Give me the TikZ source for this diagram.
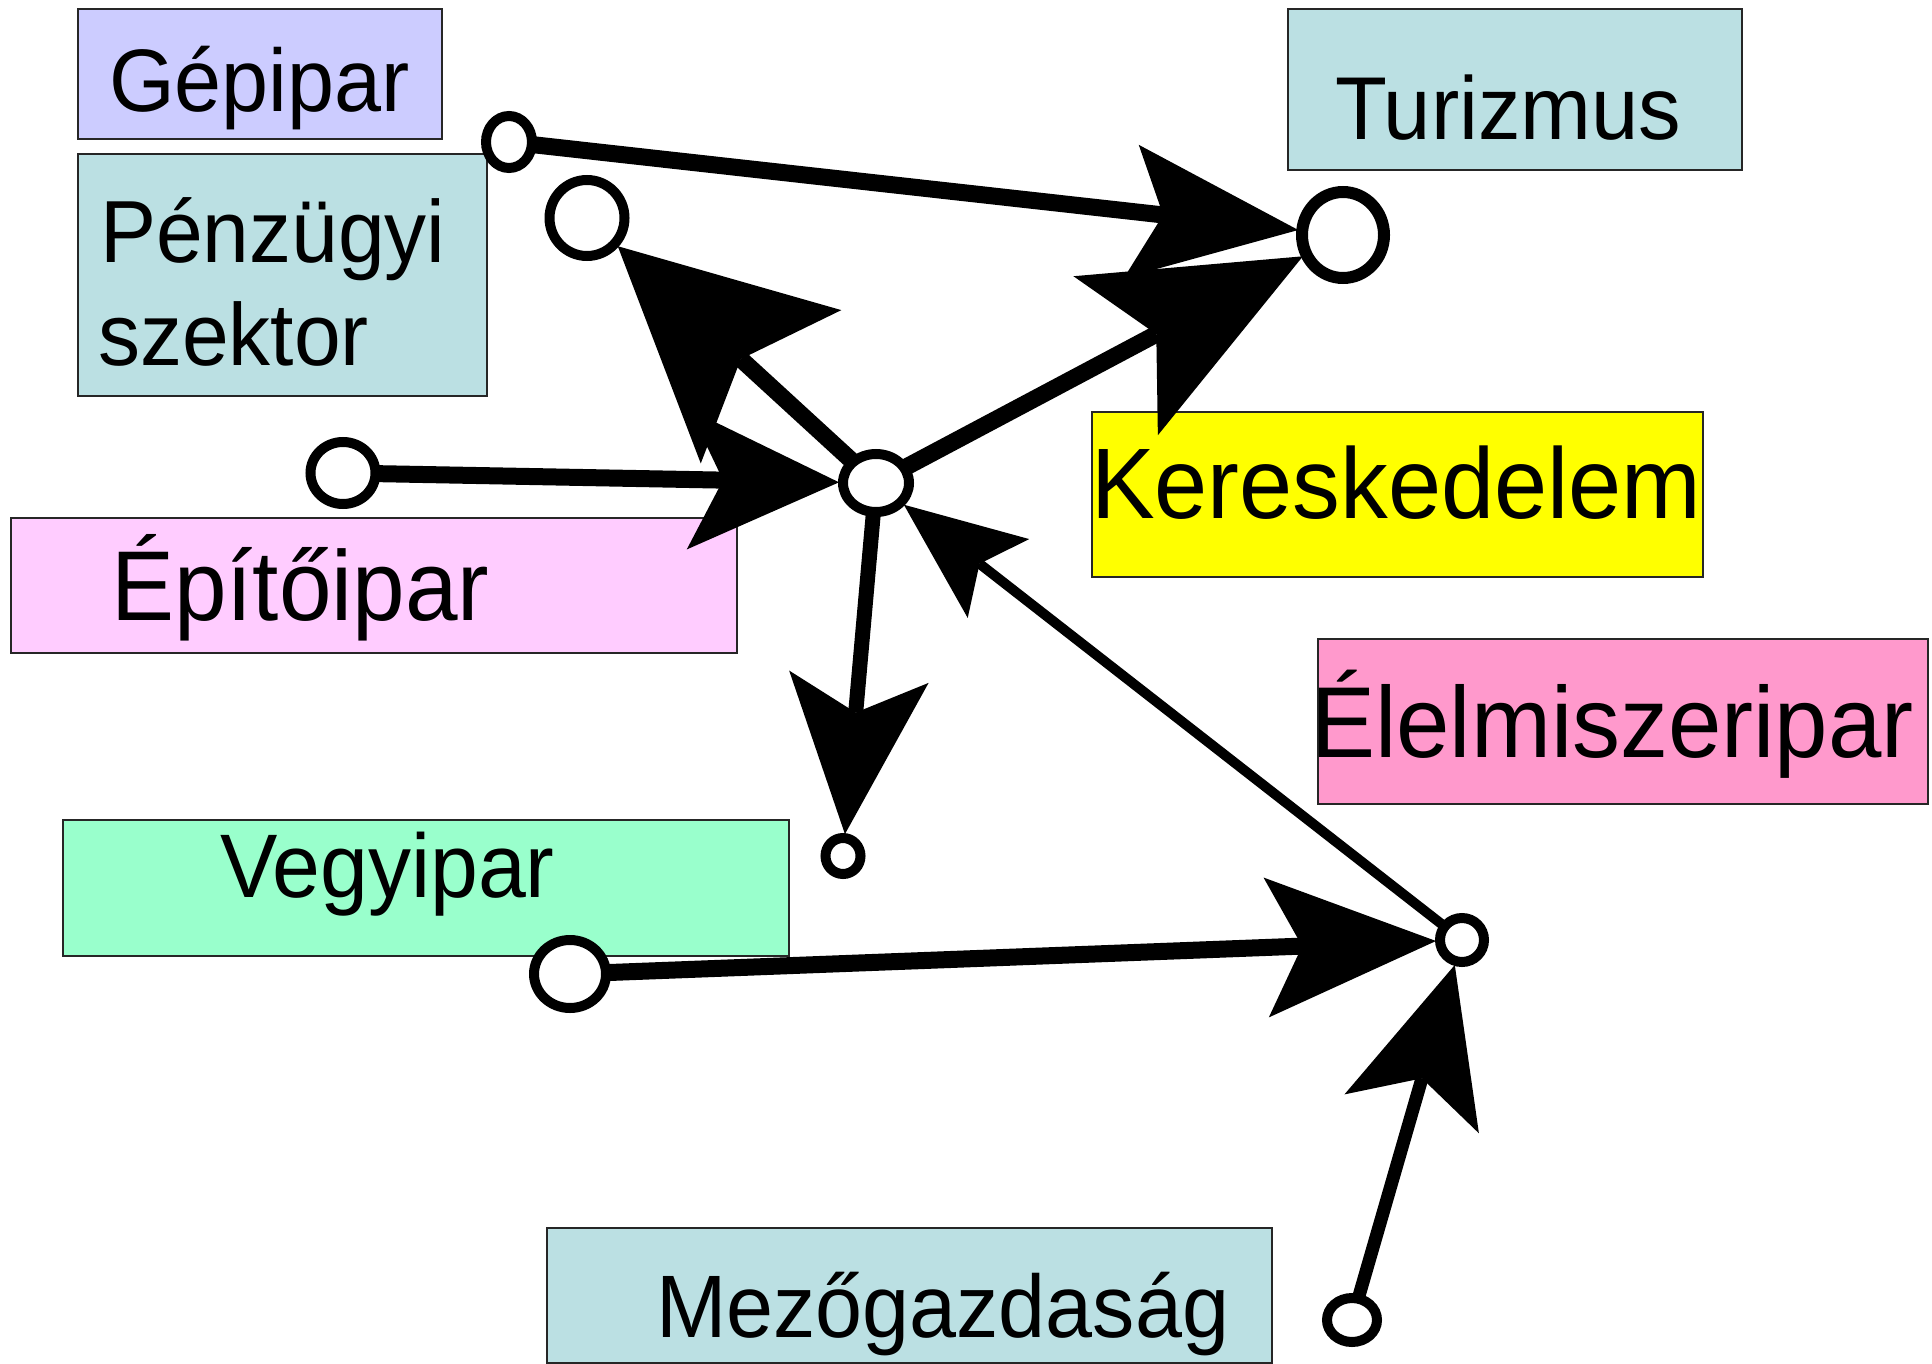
\documentclass[tikz,border=0pt]{standalone}
\usepackage{fontspec}
\setmainfont{Liberation Sans}
\usetikzlibrary{arrows.meta,shapes.geometric}
\pgfdeclarelayer{boxes}
\pgfdeclarelayer{links}
\pgfsetlayers{boxes,links,main}
\definecolor{cLav}{HTML}{CCCCFF}
\definecolor{cBlue}{HTML}{BBE0E3}
\definecolor{cYel}{HTML}{FFFF00}
\definecolor{cPink}{HTML}{FFCCFF}
\definecolor{cRose}{HTML}{FF99CC}
\definecolor{cMint}{HTML}{99FFCC}
\newcommand{\tallt}[1]{\scalebox{1}[1.05]{#1}}
\begin{document}
\begin{tikzpicture}[x=1pt,y=-1pt,
  box/.style={draw=black!85,line width=1.6pt,anchor=north west,inner sep=0pt,outer sep=0pt},
  lbl/.style={anchor=base west,inner sep=0pt,outer sep=0pt,text=black},
  hub/.style={ellipse,draw=black,fill=white,line width=10pt,inner sep=0pt,outer sep=0pt},
  link/.style={draw=black,line width=17pt,shorten >=4pt},
  head/.style n args={3}{-{Stealth[length=#1,width=#2,inset=#3,line width=0pt 0 0]}}
]
\useasboundingbox (0,0) rectangle (1932,1364);

% circles (main layer, on top)
\node[hub,minimum width=46pt,minimum height=52pt] (cG) at (509,142) {};
\node[hub,minimum width=75pt,minimum height=76pt] (cP) at (587,218) {};
\node[hub,line width=12pt,minimum width=82pt,minimum height=86pt] (cT) at (1343,235) {};
\node[hub,minimum width=65pt,minimum height=62pt] (cE) at (343,473) {};
\node[hub,minimum width=66pt,minimum height=58pt] (cC) at (876,483) {};
\node[hub,minimum width=35pt,minimum height=36pt] (cS) at (843,856) {};
\node[hub,minimum width=72pt,minimum height=68pt] (cV) at (570,974) {};
\node[hub,minimum width=44pt,minimum height=44pt] (cL) at (1462,940) {};
\node[hub,minimum width=50pt,minimum height=44pt] (cM) at (1352,1320) {};

\begin{pgfonlayer}{boxes}
\node[box,fill=cLav,minimum width=364pt,minimum height=130pt] (bGep) at (78,9) {};
\node[box,fill=cBlue,minimum width=409pt,minimum height=242pt] (bPenz) at (78,154) {};
\node[box,fill=cBlue,minimum width=454pt,minimum height=161pt] (bTur) at (1288,9) {};
\node[box,fill=cYel,minimum width=611pt,minimum height=165pt] (bKer) at (1092,412) {};
\node[box,fill=cPink,minimum width=726pt,minimum height=135pt] (bEpi) at (11,518) {};
\node[box,fill=cRose,minimum width=610pt,minimum height=165pt] (bEle) at (1318,639) {};
\node[box,fill=cMint,minimum width=726pt,minimum height=136pt] (bVeg) at (63,820) {};
\node[box,fill=cBlue,minimum width=725pt,minimum height=135pt] (bMez) at (547,1228) {};

\node[lbl,font=\fontsize{84.5}{100}\selectfont] (tGep) at (109,112) {\tallt{Gépipar}};
\node[lbl,font=\fontsize{84}{100}\selectfont] (tPenz1) at (100,262) {\tallt{Pénzügyi}};
\node[lbl,font=\fontsize{84}{100}\selectfont] (tPenz2) at (98,365) {\tallt{szektor}};
\node[lbl,font=\fontsize{85}{100}\selectfont] (tTur) at (1335,140) {\tallt{Turizmus}};
\node[lbl,font=\fontsize{95.5}{110}\selectfont] (tKer) at (1091,518) {\tallt{Kereskedelem}};
\node[lbl,font=\fontsize{96}{110}\selectfont] (tEle) at (1311,757) {\tallt{Élelmiszeripar}};
\node[lbl,font=\fontsize{94.5}{110}\selectfont] (tEpi) at (111,620) {\tallt{Építőipar}};
\node[lbl,font=\fontsize{86}{100}\selectfont] (tVeg) at (220,897) {\tallt{Vegyipar}};
\node[lbl,font=\fontsize{84.5}{100}\selectfont] (tMez) at (656,1337) {\tallt{Mezőgazdaság}};
\end{pgfonlayer}

\begin{pgfonlayer}{links}
\draw[link,head={168pt}{134pt}{32pt}] (cG) -- (cT);
\draw[link,head={212pt}{180pt}{46pt}] (cC) -- (cT);
\draw[link,head={208pt}{208pt}{41pt}] (cC) -- (cP);
\draw[link,head={151pt}{140pt}{35pt}] (cE) -- (cC);
\draw[link,line width=15pt,head={158pt}{140pt}{36pt}] (cC) -- (cS);
\draw[link,line width=10pt,head={120pt}{100pt}{24pt}] (cL) -- (cC);
\draw[link,head={170pt}{140pt}{36pt}] (cV) -- (cL);
\draw[link,line width=13pt,head={155pt}{140pt}{37pt}] (cM) -- (cL);
\end{pgfonlayer}
\end{tikzpicture}
\end{document}
